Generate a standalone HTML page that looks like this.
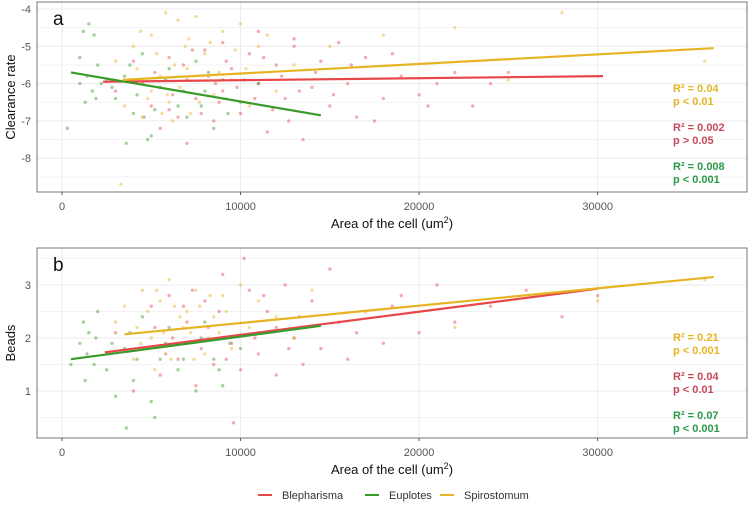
<!DOCTYPE html>
<html><head><meta charset="utf-8"><style>
body{margin:0;background:#fff;width:749px;height:504px;overflow:hidden;font-family:"Liberation Sans",sans-serif}
svg text{font-family:"Liberation Sans",sans-serif}
</style></head><body>
<svg id="chart" width="749" height="504"></svg>
<script>
// categories
const species = ["Blepharisma","Euplotes","Spirostomum"];
const colors = ["#e8474a","#3a9a2a","#e6b422"];
const annoColors = ["#c44a5a","#2a9a4a","#e6b422"];
const xTicks = [0,10000,20000,30000];
const yTicksA = [-4,-5,-6,-7,-8];
const yTicksB = [1,2,3];
// regression lines [x1,y1,x2,y2]
const linesA = [[2300,-5.95,30300,-5.8],[500,-5.7,14500,-6.85],[3400,-5.9,36500,-5.05]];
const linesB = [[2400,1.73,30000,2.93],[500,1.6,14500,2.23],[3500,2.07,36500,3.15]];
// annotations
const annoA = [["R² = 0.002","p > 0.05"],["R² = 0.008","p < 0.001"],["R² = 0.04","p < 0.01"]];
const annoB = [["R² = 0.04","p < 0.01"],["R² = 0.07","p < 0.001"],["R² = 0.21","p < 0.001"]];
// points (x in thousands)
const ptsA_red = [[3,-6.2],[4,-5.4],[5,-6.6],[5.5,-7.2],[6,-5.3],[6.5,-6.9],[7,-5.9],[7.5,-6.4],[8,-5.1],[8.5,-7.0],[9,-6.2],[9.5,-5.6],[10,-6.8],[10.5,-5.2],[11,-6.0],[11.5,-7.3],[12,-5.5],[12.5,-6.4],[13,-5.0],[13.5,-7.5],[14,-6.1],[14.5,-5.4],[15,-6.6],[15.5,-4.9],[16,-6.0],[17,-5.3],[17.5,-7.0],[18,-6.4],[19,-5.8],[20,-6.3],[21,-6.0],[22,-5.7],[23,-6.6],[24,-6.0],[25,-5.7],[16.5,-6.9],[13,-4.8],[9,-4.9],[7,-7.6],[11,-4.6],
 [4.5,-6.0],[5.2,-5.7],[6.2,-6.3],[6.8,-5.5],[7.8,-6.8],[8.2,-5.8],[8.8,-6.5],[9.2,-5.4],[9.8,-6.1],[10.2,-5.9],[10.8,-6.4],[11.3,-5.3],[11.8,-6.7],[12.3,-5.8],[13.3,-6.2],[14.2,-5.7],[15.2,-6.3],[16.2,-5.5],[18.5,-5.2],[20.5,-6.6],[6,-6.7],[7.3,-5.1],[8.6,-6.0],[12.7,-7.0]];
const ptsA_green = [[1,-5.3],[1.2,-4.6],[1.5,-4.4],[1.8,-4.7],[2,-5.5],[1.3,-6.5],[1.7,-6.2],[2.2,-6.0],[1,-6.0],[2.5,-5.9],[3,-6.4],[3.5,-5.8],[4,-6.8],[4.5,-5.2],[5,-7.4],[5.5,-6.1],[6,-5.6],[6.5,-6.6],[7,-6.9],[7.5,-5.4],[8,-6.2],[8.5,-7.2],[9,-5.9],[10,-6.5],[11,-6.0],[0.3,-7.2],[3.6,-7.6],[4.8,-7.5],
 [1.4,-5.8],[1.9,-6.4],[2.8,-6.1],[3.8,-5.5],[4.2,-6.3],[5.2,-6.7],[5.8,-5.9],[6.8,-6.2],[7.8,-6.6],[8.2,-5.7],[9.3,-6.8],[4.6,-6.9]];
const ptsA_yel = [[3,-5.4],[3.5,-6.6],[4,-5.0],[4.5,-6.9],[5,-4.7],[5.5,-5.8],[5.8,-4.1],[6,-6.5],[6.5,-4.3],[7,-5.6],[7.2,-6.8],[7.5,-4.2],[8,-5.2],[8.5,-6.3],[9,-4.6],[9.5,-5.9],[10,-4.4],[10.5,-6.6],[11,-5.0],[11.5,-4.7],[12,-6.2],[13,-5.5],[15,-5.0],[18,-4.7],[22,-4.5],[25,-5.9],[28,-4.1],[36,-5.4],[5,-6.2],[6.2,-7.0],[8.8,-5.7],[3.3,-8.7],
 [4.2,-5.6],[4.8,-6.4],[5.3,-5.2],[5.6,-6.8],[6.3,-5.5],[6.6,-6.1],[7.1,-4.8],[7.7,-6.5],[8.3,-4.9],[9.2,-6.4],[9.7,-5.1],[10.3,-5.6],[4.4,-4.6],[6.9,-5.0],[5.9,-6.3]];
const ptsB_red = [[3,2.1],[4,1.0],[5,2.6],[5.5,1.3],[6,2.8],[6.5,1.6],[7,2.3],[7.5,1.1],[8,2.7],[8.5,1.5],[9,3.2],[9.5,1.9],[10,1.4],[10.5,2.9],[11,1.7],[11.5,2.5],[12,1.3],[12.5,3.0],[13,2.0],[13.5,1.5],[14,2.7],[14.5,1.8],[15,3.3],[15.5,2.3],[16,1.6],[17,2.5],[18,1.9],[19,2.8],[20,2.1],[21,3.0],[22,2.3],[24,2.6],[26,2.9],[28,2.4],[30,2.8],[10.2,3.5],[9.6,0.4],[12,2.2],
 [4.5,1.8],[5.2,2.2],[6.2,2.0],[6.8,2.6],[7.8,1.8],[8.2,2.2],[8.8,2.5],[9.2,1.6],[10.8,2.0],[11.3,2.8],[12.7,1.8],[13.3,2.4],[16.5,2.1],[18.5,2.6],[5.8,1.7],[7.3,2.9]];
const ptsB_green = [[1,1.9],[1.2,2.3],[1.5,2.1],[1.8,1.5],[2,2.5],[1.3,1.2],[2.5,1.4],[3,0.9],[3.5,1.8],[4,1.2],[4.5,2.4],[5,0.8],[5.2,0.5],[5.5,1.6],[6,2.2],[6.5,1.4],[7,1.9],[7.5,1.0],[8,2.3],[8.5,1.6],[9,1.1],[10,1.8],[11,2.1],[0.5,1.5],[3.6,0.3],
 [1.4,1.7],[1.9,2.0],[2.8,1.9],[3.8,2.1],[4.2,1.6],[5.8,1.9],[6.8,1.6],[7.8,2.0],[8.8,1.4],[9.4,1.9]];
const ptsB_yel = [[3,2.3],[3.5,2.6],[4,1.6],[4.5,2.9],[5,2.0],[5.5,2.7],[6,3.1],[6.5,1.9],[7,2.5],[7.5,2.9],[8,1.7],[8.5,2.4],[9,2.8],[9.5,1.8],[10,3.0],[10.5,2.2],[11,2.7],[12,2.4],[13,2.0],[5.2,1.4],[6.8,2.2],[8.2,2.0],[22,2.2],[30,2.7],[36,3.1],[14,2.9],
 [4.2,2.2],[4.8,2.5],[5.3,2.9],[5.7,2.1],[6.3,2.6],[6.6,2.4],[7.2,2.1],[7.7,2.6],[8.3,2.8],[8.8,2.1],[9.2,2.5],[4.4,1.9],[6.1,1.6],[7.4,1.6]];
const ptsA = [ptsA_red, ptsA_green, ptsA_yel];
const ptsB = [ptsB_red, ptsB_green, ptsB_yel];

const svg = document.getElementById('chart');
const NS = 'http://www.w3.org/2000/svg';
function mk(tag, attrs, parent){const e=document.createElementNS(NS,tag);for(const k in attrs)e.setAttribute(k,attrs[k]);(parent||svg).appendChild(e);return e;}
const xS = v => 62 + v*0.017855;

function panel(p){
  const g = mk('g',{});
  
  
  const yS = v => p.y0 + (v - p.v0)*p.k;
  for (const t of xTicks){mk('line',{x1:xS(t),x2:xS(t),y1:p.top,y2:p.bot,stroke:'#ebebeb','stroke-width':1},g);}
  for (let i=0;i<p.minor.length;i++){mk('line',{x1:37,x2:747,y1:yS(p.minor[i]),y2:yS(p.minor[i]),stroke:'#f3f3f3','stroke-width':1},g);}
  for (const t of p.yt){
    mk('line',{x1:37,x2:747,y1:yS(t),y2:yS(t),stroke:'#ebebeb','stroke-width':1},g);
    const tx = mk('text',{x:31,y:yS(t)+4,'text-anchor':'end','font-size':11,fill:'#555'},g);
    tx.textContent = t;
    
    
  }
  p.pts.forEach((arr,si)=>{arr.forEach(pt=>{
    const c = mk('circle',{cx:xS(pt[0]*1000),cy:yS(pt[1]),r:1.7,fill:colors[si],'fill-opacity':0.45},g);
    
    
  });});
  p.lines.forEach((l,si)=>{
    const ln = mk('line',{x1:xS(l[0]),y1:yS(l[1]),x2:xS(l[2]),y2:yS(l[3]),stroke:colors[si],'stroke-width':2.2},g);
    
    
  });
  mk('rect',{x:37,y:p.top,width:710,height:p.bot-p.top,fill:'none',stroke:'#777','stroke-width':1},g);
  for (const t of xTicks){
    mk('line',{x1:xS(t),x2:xS(t),y1:p.bot,y2:p.bot+3,stroke:'#555'},g);
    const tx = mk('text',{x:xS(t),y:p.bot+18,'text-anchor':'middle','font-size':11,fill:'#555'},g);
    tx.textContent = t;
    
    
  }
  const lab = mk('text',{x:53,y:p.top+23,'font-size':19,fill:'#111'},g);
  lab.textContent = p.letter;
  
  
  const yt = mk('text',{x:0,y:0,'font-size':13,fill:'#111','text-anchor':'middle',transform:`translate(15,${(p.top+p.bot)/2}) rotate(-90)`},g);
  yt.textContent = p.ytitle;
  
  
  const xt = mk('text',{x:392,y:p.bot+36,'font-size':13,fill:'#111','text-anchor':'middle'},g);
  xt.innerHTML = 'Area of the cell (um<tspan dy="-5" font-size="9">2</tspan><tspan dy="5">)</tspan>';
  
  
  [2,0,1].forEach((si,i)=>{
    p.anno[si].forEach((s,j)=>{
      const a = mk('text',{x:673,y:p.annoY+i*39+j*13,'font-size':11,'font-weight':'bold',fill:annoColors[si]},g);
      a.textContent = s;
      
      
    });
  });
}
panel({name:'panel-a',letter:'a',ytitle:'Clearance rate',top:2,bot:192,y0:9,v0:-4,k:-37.3,yt:yTicksA,minor:[-4.5,-5.5,-6.5,-7.5,-8.5],pts:ptsA,lines:linesA,anno:annoA,annoY:92});
panel({name:'panel-b',letter:'b',ytitle:'Beads',top:248,bot:438,y0:338,v0:2,k:-53,yt:yTicksB,minor:[0.5,1.5,2.5,3.5],pts:ptsB,lines:linesB,anno:annoB,annoY:341});
const leg = mk('g',{});


const lx=[258,365,440];
species.forEach((s,i)=>{
  mk('line',{x1:lx[i],x2:lx[i]+14,y1:495,y2:495,stroke:colors[i],'stroke-width':2},leg);
  const t = mk('text',{x:lx[i]+24,y:499,'font-size':11,fill:'#333'},leg);
  t.textContent = s;
  
  
});
</script>
</body></html>
